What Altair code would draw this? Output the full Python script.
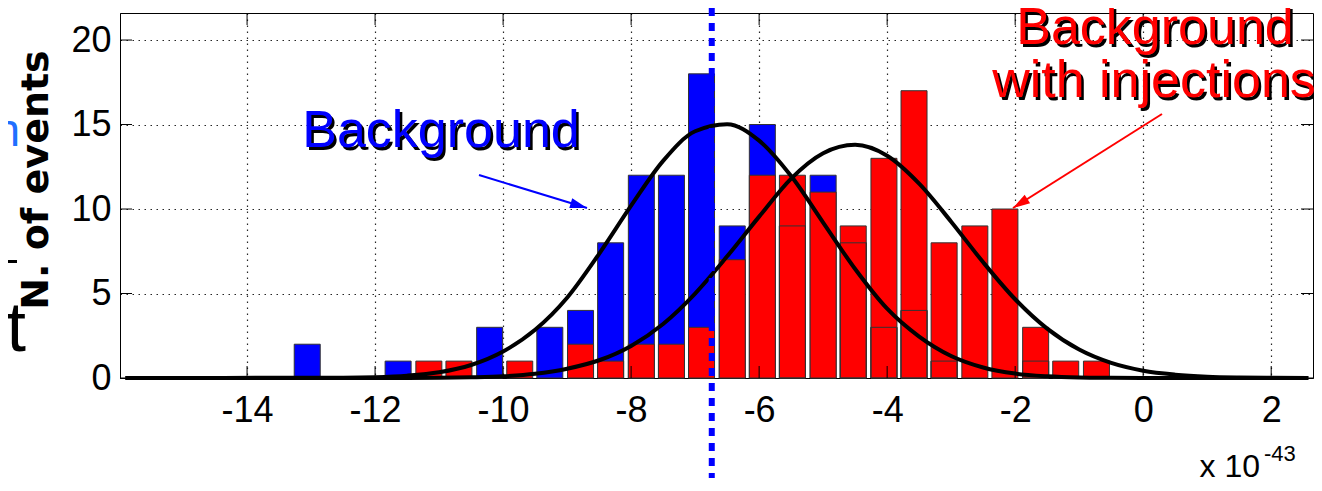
import altair as alt
import pandas as pd

# ---------------- data ----------------
bin_centers = [-13.06, -12.58, -12.11, -11.64, -11.16, -10.69, -10.21, -9.74, -9.27,
               -8.79, -8.32, -7.84, -7.37, -6.90, -6.42, -5.95, -5.48, -5.00, -4.53,
               -4.05, -3.58, -3.11, -2.63, -2.16, -1.68, -1.21, -0.73]
background_counts = [2, 0, 0, 1, 0, 0, 3, 0, 3, 4, 8, 12, 12, 18, 9, 15, 9, 12, 8,
                     3, 4, 1, 0, 0, 1, 0, 0]
injection_counts = [0, 0, 0, 0, 1, 1, 0, 1, 0, 2, 1, 2, 2, 3, 7, 12, 12, 11, 9,
                    13, 17, 8, 9, 10, 3, 1, 1]

fit_x = [-15.9, -12.5, -12.0, -11.5, -11.0, -10.5, -10.0, -9.5, -9.0, -8.5, -8.0,
         -7.5, -7.0, -6.5, -6.0, -5.5, -5.0, -4.5, -4.0, -3.5, -3.0, -2.5, -2.0,
         -1.5, -1.0, -0.5, 0.0, 0.5, 1.0, 1.5, 2.0, 2.58]
fit_background = [0.0, 0.02, 0.05, 0.14, 0.34, 0.77, 1.57, 2.85, 4.75, 7.35, 10.2,
                  12.85, 14.6, 15.02, 14.05, 11.95, 9.2, 6.45, 4.1, 2.45, 1.3, 0.62,
                  0.26, 0.1, 0.03, 0.01, 0.0, 0.0, 0.0, 0.0, 0.0, 0.0]
fit_injection = [0.0, 0.0, 0.0, 0.0, 0.01, 0.04, 0.1, 0.25, 0.55, 1.05, 1.9, 3.2,
                 5.0, 7.2, 9.55, 11.8, 13.3, 13.8, 13.15, 11.5, 9.25, 6.85, 4.66,
                 2.92, 1.68, 0.89, 0.43, 0.2, 0.08, 0.03, 0.01, 0.0]

threshold_x = [-6.74]
x_ticks = [-14, -12, -10, -8, -6, -4, -2, 0, 2]
y_ticks = [0, 5, 10, 15, 20]

# ---------------- layout / style ----------------
W, H = 1193, 365
FONT = "Liberation Sans"
xs = alt.Scale(domain=[-15.907, 2.575], nice=False, zero=False)
ys = alt.Scale(domain=[0, 21.6], nice=False, zero=False)

hist = pd.DataFrame({"c": bin_centers, "bg": background_counts, "inj": injection_counts})
fits = pd.concat([
    pd.DataFrame({"fx": fit_x, "fy": fit_background, "s": "background"}),
    pd.DataFrame({"fx": fit_x, "fy": fit_injection, "s": "injection"}),
])
one = pd.DataFrame({"a": [0]})

AX = alt.Axis(values=x_ticks, grid=True, ticks=False, title=None,
              labelExpr="'' + datum.value", labelPadding=15)
AY = alt.Axis(values=y_ticks, grid=True, ticks=False, title=None, labelPadding=9)


def X(f):
    return alt.X(f, scale=xs, axis=AX, title=None)


def Y(f):
    return alt.Y(f, scale=ys, axis=AY, title=None)


blue = alt.Chart(hist).transform_filter("datum.bg > 0").mark_bar(
    size=26, color="#0000ff", stroke="#333", strokeWidth=1).encode(x=X("c:Q"), y=Y("bg:Q"))
red = alt.Chart(hist).transform_filter("datum.inj > 0").mark_bar(
    size=26, color="#ff0000", stroke="#333", strokeWidth=1).encode(x=X("c:Q"), y=Y("inj:Q"))
blue_edges = alt.Chart(hist).transform_filter("datum.bg > 0 && datum.bg < datum.inj").mark_bar(
    size=26, fillOpacity=0, stroke="#333", strokeWidth=1).encode(x=X("c:Q"), y=Y("bg:Q"))

yt = pd.DataFrame({"v": y_ticks})
xt = pd.DataFrame({"v": x_ticks})
tick_l = alt.Chart(yt).mark_rule(color="#000", strokeWidth=1).encode(
    y=Y("v:Q"), x=alt.value(0), x2=alt.value(12))
tick_r = alt.Chart(yt).mark_rule(color="#000", strokeWidth=1).encode(
    y=Y("v:Q"), x=alt.value(W - 12), x2=alt.value(W))
tick_b = alt.Chart(xt).mark_rule(color="#000", strokeWidth=1).encode(
    x=X("v:Q"), y=alt.value(H), y2=alt.value(H - 12))
tick_t = alt.Chart(xt).mark_rule(color="#000", strokeWidth=1).encode(
    x=X("v:Q"), y=alt.value(0), y2=alt.value(12))

curves = alt.Chart(fits).mark_line(color="#000", strokeWidth=4, interpolate="monotone").encode(
    x=X("fx:Q"), y=Y("fy:Q"), detail="s:N")

thr = alt.Chart(pd.DataFrame({"t": threshold_x})).mark_rule(
    color="#0000ff", strokeWidth=6, strokeDash=[8, 7]).encode(
    x=X("t:Q"), y=alt.value(-5), y2=alt.value(H + 100))


def label(txt, x, y, size, color, align="center", weight="normal", font=FONT, angle=None,
          shadow=None):
    layers = []
    kw = dict(text=txt, fontSize=size, font=font, align=align, baseline="alphabetic",
              fontWeight=weight)
    if angle is not None:
        kw["angle"] = angle
    if shadow:
        layers.append(alt.Chart(one).mark_text(color=shadow, **kw).encode(
            x=alt.value(x + 2.5), y=alt.value(y + 2.5)))
    layers.append(alt.Chart(one).mark_text(color=color, **kw).encode(
        x=alt.value(x), y=alt.value(y)))
    return layers


def arrow(x0, y0, x1, y1, ang, color):
    line = alt.Chart(one).mark_rule(color=color, strokeWidth=2).encode(
        x=alt.value(x0), y=alt.value(y0), x2=alt.value(x1), y2=alt.value(y1))
    head = alt.Chart(one).mark_point(shape="M0,0 L-2,-0.6 L-2,0.6 Z", size=289, angle=ang,
                                     filled=True, color=color, opacity=1).encode(
        x=alt.value(x1), y=alt.value(y1))
    return [line, head]


texts = []
texts += label("Background", 321, 134, 52, "#0000ff", shadow="#000")
texts += label("Background", 1035, 31, 52, "#ff0000", shadow="#000")
texts += label("with injections", 1034, 84, 52, "#ff0000", shadow="#000")
texts += label("x 10", 1140, 464, 32, "#000", align="right")
texts += label("-43", 1144, 448, 22, "#000", align="left")
texts += label("N. of events", -72, 167, 38, "#000", weight="bold", font="DejaVu Sans", angle=270)
texts += label("n", -100, 133, 46, "#1f6fff", align="right")
texts += label("t", -94, 338, 70, "#000", align="right")
stray = alt.Chart(one).mark_rect(color="#000").encode(
    x=alt.value(-112), x2=alt.value(-103), y=alt.value(247), y2=alt.value(250))

arrows = arrow(359, 162, 467, 195, 17, "#0000ff") + arrow(1042, 101, 893, 195, 147.8, "#ff0000")

chart = alt.layer(
    blue, red, blue_edges, tick_l, tick_r, tick_b, tick_t, curves, thr, stray,
    *arrows, *texts
).properties(
    width=W, height=H,
    background="#ffffff",
    padding={"left": 112, "top": 5, "right": 1, "bottom": 100},
    autosize=alt.AutoSizeParams(type="none"),
).configure_view(stroke="#000", strokeWidth=1).configure_axis(
    labelFontSize=36, labelFont=FONT, labelColor="#000", domainColor="#000",
    gridColor="#000", gridDash=[1.5, 4.5], gridWidth=1.2, gridOpacity=0.85,
)

chart.save("out.html", embed_options={"renderer": "svg", "actions": False})
